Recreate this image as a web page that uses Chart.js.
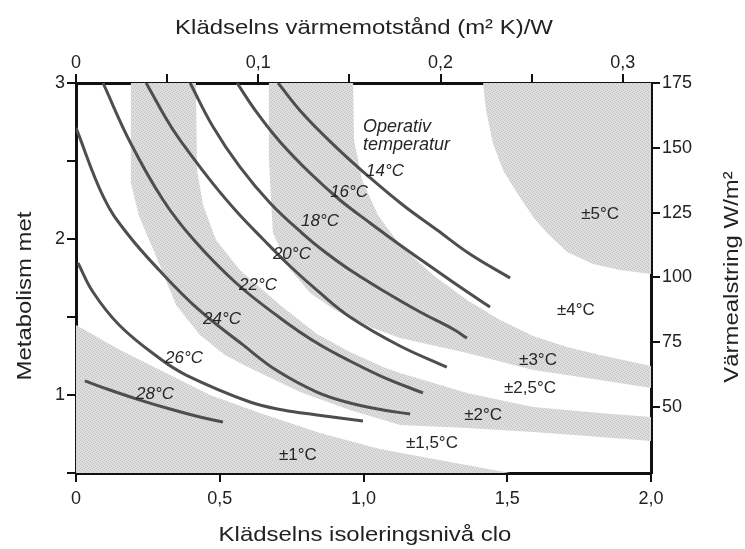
<!DOCTYPE html>
<html><head><meta charset="utf-8">
<script src="https://cdn.jsdelivr.net/npm/chart.js@4"></script>
<style>html,body{margin:0;padding:0;background:#fff}</style>
</head><body>
<canvas id="c" width="745" height="549"></canvas>
<script>
// ---- axis ticks ----
const cloTicks = [0, 0.5, 1, 1.5, 2];
const resistanceTicks = [0, 0.05, 0.1, 0.15, 0.2, 0.25, 0.3];
const metTicks = [0.5, 1, 1.5, 2, 2.5, 3];
const heatTicks = [50, 75, 100, 125, 150, 175];

// ---- operative temperature curves: [clo, met] ----
const temperatures = ['14°C', '16°C', '18°C', '20°C', '22°C', '24°C', '26°C', '28°C'];
const t14 = [[0.703,3.0],[0.790,2.801],[0.908,2.583],[1.012,2.410],[1.137,2.218],[1.256,2.058],[1.370,1.904],[1.510,1.750]];
const t16 = [[0.560,3.0],[0.630,2.808],[0.710,2.622],[0.814,2.423],[0.918,2.250],[1.023,2.103],[1.127,1.962],[1.231,1.827],[1.336,1.692],[1.440,1.564]];
const t18 = [[0.397,3.0],[0.477,2.718],[0.570,2.462],[0.675,2.231],[0.790,2.032],[0.866,1.917],[0.964,1.788],[1.082,1.654],[1.197,1.532],[1.311,1.423],[1.360,1.365]];
const t20 = [[0.244,3.0],[0.327,2.731],[0.397,2.545],[0.477,2.353],[0.560,2.173],[0.650,2.000],[0.744,1.827],[0.849,1.654],[0.953,1.500],[1.127,1.314],[1.290,1.179]];
const t22 = [[0.094,3.0],[0.188,2.622],[0.303,2.250],[0.407,2.000],[0.557,1.718],[0.710,1.494],[0.838,1.333],[0.953,1.218],[1.068,1.115],[1.207,1.013]];
const t24 = [[0.0,2.712],[0.097,2.263],[0.174,2.045],[0.289,1.801],[0.428,1.545],[0.581,1.321],[0.696,1.160],[0.838,1.019],[0.953,0.949],[1.068,0.904],[1.162,0.878]];
const t26 = [[0.007,1.846],[0.059,1.660],[0.150,1.449],[0.289,1.237],[0.383,1.128],[0.605,0.955],[0.720,0.904],[0.838,0.872],[0.998,0.833]];
const t28 = [[0.031,1.090],[0.118,1.032],[0.212,0.974],[0.327,0.910],[0.431,0.859],[0.511,0.827]];
const tempCurves = [t14, t16, t18, t20, t22, t24, t26, t28];
const tempLabelAt = [[1.075,2.436],[0.950,2.301],[0.849,2.115],[0.751,1.904],[0.633,1.705],[0.508,1.487],[0.376,1.237],[0.275,1.006]];

// ---- tolerance zones (boundaries in [clo, met]) ----
const band1Upper = [[0,1.449],[0.153,1.288],[0.292,1.160],[0.466,1.0],[0.640,0.885],[0.849,0.756],[1.057,0.654],[1.301,0.571],[1.510,0.5]];
const band2Lower = [[0.191,3.0],[0.191,2.359],[0.219,2.147],[0.278,1.891],[0.348,1.577],[0.431,1.385],[0.518,1.256],[0.605,1.173],[0.779,1.019],[0.953,0.904],[1.127,0.808],[1.360,0.788],[1.590,0.763],[1.823,0.731],[2.0,0.705]];
const band2Upper = [[0.417,3.0],[0.421,2.442],[0.442,2.218],[0.487,1.994],[0.570,1.801],[0.710,1.577],[0.838,1.391],[0.953,1.276],[1.068,1.179],[1.127,1.141],[1.360,1.013],[1.590,0.923],[1.823,0.885],[2.0,0.859]];
const band3Lower = [[0.671,3.0],[0.671,2.506],[0.685,2.038],[0.741,1.814],[0.814,1.654],[0.901,1.545],[1.023,1.436],[1.127,1.365],[1.360,1.269],[1.590,1.160],[1.823,1.096],[2.0,1.045]];
const band3Upper = [[0.964,3.0],[0.967,2.635],[0.995,2.378],[1.050,2.154],[1.127,1.962],[1.242,1.769],[1.360,1.609],[1.475,1.481],[1.590,1.378],[1.708,1.308],[1.823,1.256],[2.0,1.186]];
const band5Edge = [[1.416,3.0],[1.426,2.827],[1.450,2.615],[1.485,2.442],[1.534,2.295],[1.590,2.141],[1.638,2.038],[1.708,1.917],[1.798,1.840],[1.892,1.801],[2.0,1.776]];
const bandLabels = ['±5°C', '±4°C', '±3°C', '±2,5°C', '±2°C', '±1,5°C', '±1°C'];
const bandLabelAt = [[1.823,2.160],[1.739,1.545],[1.607,1.224],[1.579,1.045],[1.416,0.872],[1.238,0.692],[0.772,0.615]];

const noteLines = ['Operativ', 'temperatur'];
const noteAt = [[0.998,2.718],[0.998,2.603]];

const axisTitles = {
  bottom: 'Klädselns isoleringsnivå clo',
  top: 'Klädselns värmemotstånd (m² K)/W',
  left: 'Metabolism met',
  right: 'Värmealstring W/m²'
};

// ---- build ----
const FONT = "'Liberation Sans', Arial, sans-serif";
function stipple() {
  const pc = document.createElement('canvas');
  pc.width = 4; pc.height = 4;
  const p = pc.getContext('2d');
  p.fillStyle = '#dddddd'; p.fillRect(0, 0, 4, 4);
  p.fillStyle = '#c6c6c6';
  p.fillRect(0, 0, 1, 1); p.fillRect(2, 1, 1, 1); p.fillRect(1, 3, 1, 1); p.fillRect(3, 2, 1, 1);
  return p.createPattern(pc, 'repeat');
}
const GRAY = stipple();
const pts = a => a.map(([x, y]) => ({x, y}));
const metMin = metTicks[0], metMax = metTicks[metTicks.length - 1];
const cloMin = cloTicks[0], cloMax = cloTicks[cloTicks.length - 1];

function zone(poly) {
  return {data: pts(poly), showLine: true, fill: 'shape', backgroundColor: GRAY,
    borderWidth: 0, borderColor: 'rgba(0,0,0,0)', pointRadius: 0, tension: 0, order: 10};
}
const zones = [
  zone(band1Upper.concat([[cloMin, metMin]])),
  zone(band2Lower.concat(band2Upper.slice().reverse())),
  zone(band3Lower.concat(band3Upper.slice().reverse())),
  zone(band5Edge.concat([[cloMax, metMax]]))
];
const curves = tempCurves.map((c, i) => ({
  label: temperatures[i], data: pts(c), showLine: true, fill: false,
  borderColor: '#4e4e4e', borderWidth: 3, pointRadius: 0,
  tension: 0.4, order: 1
}));

const comma = v => (v === 0 ? '0' : v.toFixed(1).replace('.', ','));
function axis(pos, min, max, ticks, fmt, size) {
  const horiz = pos === 'top' || pos === 'bottom';
  return {
    type: 'linear', position: pos, min, max, z: 1,
    afterBuildTicks: s => { s.ticks = ticks.map(v => ({value: v})); },
    afterFit: s => { if (horiz) s.height = size; else s.width = size; },
    grid: {display: true, drawOnChartArea: false, drawTicks: true, tickLength: 9, color: '#111', lineWidth: 2},
    border: {display: true, width: 3, color: '#111'},
    ticks: {font: {family: FONT, size: 18}, color: '#222', padding: pos === 'bottom' ? 6 : (pos === 'top' ? 0 : 2),
      maxRotation: 0, minRotation: 0, autoSkip: false, callback: v => fmt(v)},
    title: {display: false}
  };
}

const textPlugin = {
  id: 'texts',
  afterDatasetsDraw(chart) {
    const {ctx} = chart;
    const X = chart.scales.x, Y = chart.scales.y;
    ctx.save();
    ctx.fillStyle = '#262626';
    ctx.textBaseline = 'middle';
    ctx.textAlign = 'center';
    ctx.font = `italic 17px ${FONT}`;
    temperatures.forEach((t, i) => {
      ctx.fillText(t, X.getPixelForValue(tempLabelAt[i][0]), Y.getPixelForValue(tempLabelAt[i][1]));
    });
    ctx.textAlign = 'left';
    ctx.font = `italic 18px ${FONT}`;
    noteLines.forEach((t, i) => {
      ctx.fillText(t, X.getPixelForValue(noteAt[i][0]), Y.getPixelForValue(noteAt[i][1]));
    });
    ctx.textAlign = 'center';
    ctx.font = `17px ${FONT}`;
    bandLabels.forEach((t, i) => {
      ctx.fillText(t, X.getPixelForValue(bandLabelAt[i][0]), Y.getPixelForValue(bandLabelAt[i][1]));
    });
    ctx.restore();
  },
  afterDraw(chart) {
    const {ctx} = chart;
    const draw = (text, cx, cy, rot) => {
      ctx.save();
      ctx.translate(cx, cy);
      ctx.rotate(rot);
      ctx.scale(1.14, 1);
      ctx.fillText(text, 0, 0);
      ctx.restore();
    };
    ctx.save();
    ctx.fillStyle = '#222';
    ctx.font = `21px ${FONT}`;
    ctx.textAlign = 'center';
    ctx.textBaseline = 'middle';
    draw(axisTitles.top, 364, 28, 0);
    draw(axisTitles.bottom, 365, 535, 0);
    draw(axisTitles.left, 25, 296, -Math.PI / 2);
    draw(axisTitles.right, 732, 277, -Math.PI / 2);
    ctx.restore();
  }
};

new Chart(document.getElementById('c'), {
  type: 'scatter',
  data: {datasets: curves.concat(zones)},
  options: {
    responsive: false, animation: false,
    layout: {padding: 0},
    plugins: {legend: {display: false}, tooltip: {enabled: false}},
    scales: {
      x: axis('bottom', cloMin, cloMax, cloTicks, comma, 76),
      x2: axis('top', 0, 0.3155, resistanceTicks, v => (Math.abs(v * 10 - Math.round(v * 10)) < 1e-6 ? comma(v) : ''), 83),
      y: axis('left', metMin, metMax, metTicks, v => (Number.isInteger(v) ? String(v) : ''), 76),
      y2: axis('right', 24.5, 175, heatTicks, v => String(v), 94)
    }
  },
  plugins: [textPlugin]
});
</script>
</body></html>
